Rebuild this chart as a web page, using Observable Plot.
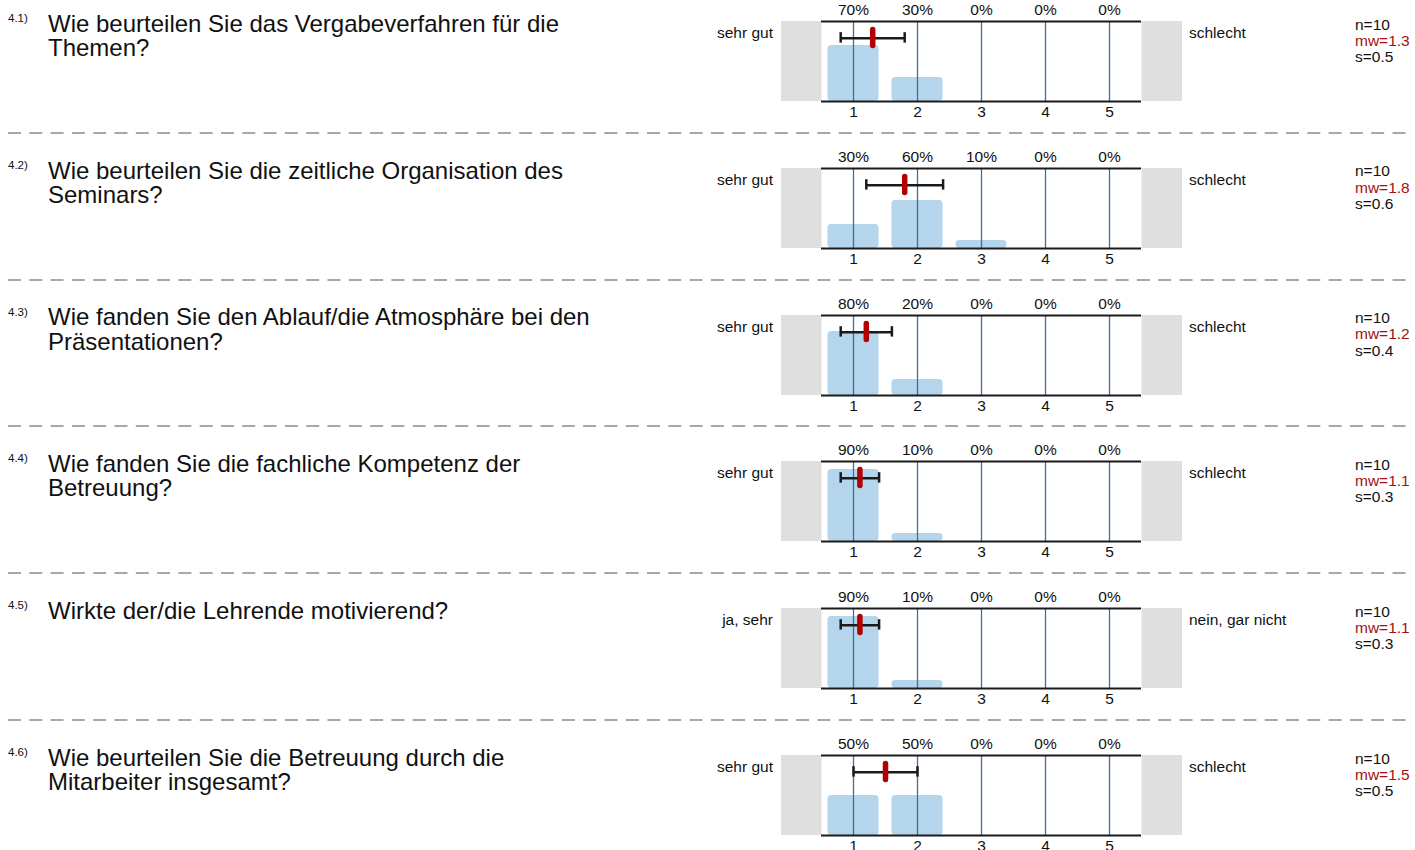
<!DOCTYPE html>
<html><head><meta charset="utf-8">
<script src="https://cdn.jsdelivr.net/npm/d3@7"></script>
<script src="https://cdn.jsdelivr.net/npm/@observablehq/plot@0.6"></script>
<style>
html,body{margin:0;padding:0;background:#fff;}
#root{position:relative;width:1415px;height:850px;overflow:hidden;font-family:"Liberation Sans",Arial,sans-serif;color:#111;}
.abs{position:absolute;white-space:pre;}
</style></head>
<body><div id="root"></div>
<script>
// ---- data ----
const itemNumbers = ["4.1)", "4.2)", "4.3)", "4.4)", "4.5)", "4.6)"];
const questions = [
  "Wie beurteilen Sie das Vergabeverfahren für die\nThemen?",
  "Wie beurteilen Sie die zeitliche Organisation des\nSeminars?",
  "Wie fanden Sie den Ablauf/die Atmosphäre bei den\nPräsentationen?",
  "Wie fanden Sie die fachliche Kompetenz der\nBetreuung?",
  "Wirkte der/die Lehrende motivierend?",
  "Wie beurteilen Sie die Betreuung durch die\nMitarbeiter insgesamt?"
];
const leftLabels = ["sehr gut", "sehr gut", "sehr gut", "sehr gut", "ja, sehr", "sehr gut"];
const rightLabels = ["schlecht", "schlecht", "schlecht", "schlecht", "nein, gar nicht", "schlecht"];
const scalePoints = [1, 2, 3, 4, 5];
const percents = [
  [70, 30, 0, 0, 0],
  [30, 60, 10, 0, 0],
  [80, 20, 0, 0, 0],
  [90, 10, 0, 0, 0],
  [90, 10, 0, 0, 0],
  [50, 50, 0, 0, 0]
];
const nValues = [10, 10, 10, 10, 10, 10];
const means = [1.3, 1.8, 1.2, 1.1, 1.1, 1.5];
const sds = [0.5, 0.6, 0.4, 0.3, 0.3, 0.5];

// ---- layout ----
const root = document.getElementById("root");
const FONT = "'Liberation Sans', Arial, sans-serif";
const rowPitch = 146.8, firstTop = 21;
const chartLeft = 781, chartW = 401, mL = 40, mR = 41, mT = 21, mB = 24, innerH = 80;
const BAR = "#b4d5ec", GRID = "#3a6fa8", RED = "#b00000", GREY = "#dfdfdf";

function addDiv(text, css) {
  const d = document.createElement("div");
  d.className = "abs";
  d.textContent = text;
  Object.assign(d.style, css);
  root.appendChild(d);
  return d;
}

questions.forEach((q, i) => {
  const top = firstTop + i * rowPitch;

  if (i > 0) {
    const sy = top - 35;
    const svg = d3.select(root).append("svg")
      .attr("width", 1415).attr("height", 4)
      .style("position", "absolute").style("left", "0px").style("top", (sy - 2) + "px");
    svg.append("line").attr("x1", 8).attr("x2", 1412).attr("y1", 2).attr("y2", 2)
      .attr("stroke", "#a8a8a8").attr("stroke-width", 2).attr("stroke-dasharray", "13 8.3");
  }

  addDiv(itemNumbers[i], {left: "8px", top: (top - 9) + "px", fontSize: "11.5px", lineHeight: "12.65px"});
  addDiv(q, {left: "48px", top: (top - 9.3) + "px", fontSize: "24px", lineHeight: "24.3px"});
  addDiv(leftLabels[i], {right: (1415 - 773) + "px", top: (top + 3) + "px", fontSize: "15.5px", lineHeight: "17.8px", textAlign: "right"});
  addDiv(rightLabels[i], {left: "1189px", top: (top + 3) + "px", fontSize: "15.5px", lineHeight: "17.8px"});
  addDiv("n=" + nValues[i], {left: "1355px", top: (top - 4.5) + "px", fontSize: "15.5px", lineHeight: "16.2px"});
  addDiv("mw=" + means[i], {left: "1355px", top: (top - 4.5 + 16.2) + "px", fontSize: "15.5px", lineHeight: "16.2px", color: "#a31010"});
  addDiv("s=" + sds[i], {left: "1355px", top: (top - 4.5 + 32.4) + "px", fontSize: "15.5px", lineHeight: "16.2px"});

  const bg = document.createElement("div");
  Object.assign(bg.style, {position: "absolute", left: chartLeft + "px", top: top + "px", width: chartW + "px", height: innerH + "px", background: GREY});
  root.appendChild(bg);

  const rows = scalePoints.map((v, k) => ({v, p: percents[i][k]}));
  const m = means[i], s = sds[i];

  const chart = Plot.plot({
    width: chartW,
    height: mT + innerH + mB,
    marginLeft: mL, marginRight: mR, marginTop: mT, marginBottom: mB,
    x: {domain: [0.5, 5.5]},
    y: {domain: [0, 100], axis: null},
    style: {fontFamily: FONT, fontSize: "15.5px", color: "#111", background: "transparent", overflow: "visible"},
    marks: [
      Plot.frame({fill: "white", stroke: null}),
      Plot.rectY(rows, {x1: d => d.v - 0.4, x2: d => d.v + 0.4, y1: 0, y2: "p", fill: BAR, rx: 4}),
      Plot.ruleX(scalePoints, {stroke: GRID, strokeWidth: 1.3}),
      Plot.ruleY([0, 100], {stroke: "#1a1a1a", strokeWidth: 2}),
      Plot.ruleY([m], {x1: m - s, x2: m + s, y: 79, stroke: "#1a1a1a", strokeWidth: 2.5}),
      Plot.ruleX([m - s, m + s], {y1: 73, y2: 86, stroke: "#1a1a1a", strokeWidth: 2.5}),
      Plot.ruleX([m], {y1: 69.5, y2: 89.5, stroke: RED, strokeWidth: 5.5, strokeLinecap: "round"}),
      Plot.text(rows, {x: "v", text: d => d.p + "%", frameAnchor: "top", lineAnchor: "middle", dy: -11, fontSize: 15.5, fill: "#111"}),
      Plot.axisX(scalePoints, {anchor: "bottom", tickSize: 0, tickPadding: 4, fontSize: 15.5, label: null, tickFormat: d => String(d), fill: "#111"})
    ]
  });
  chart.style.position = "absolute";
  chart.style.left = chartLeft + "px";
  chart.style.top = (top - mT) + "px";
  root.appendChild(chart);
});
</script>
</body></html>
